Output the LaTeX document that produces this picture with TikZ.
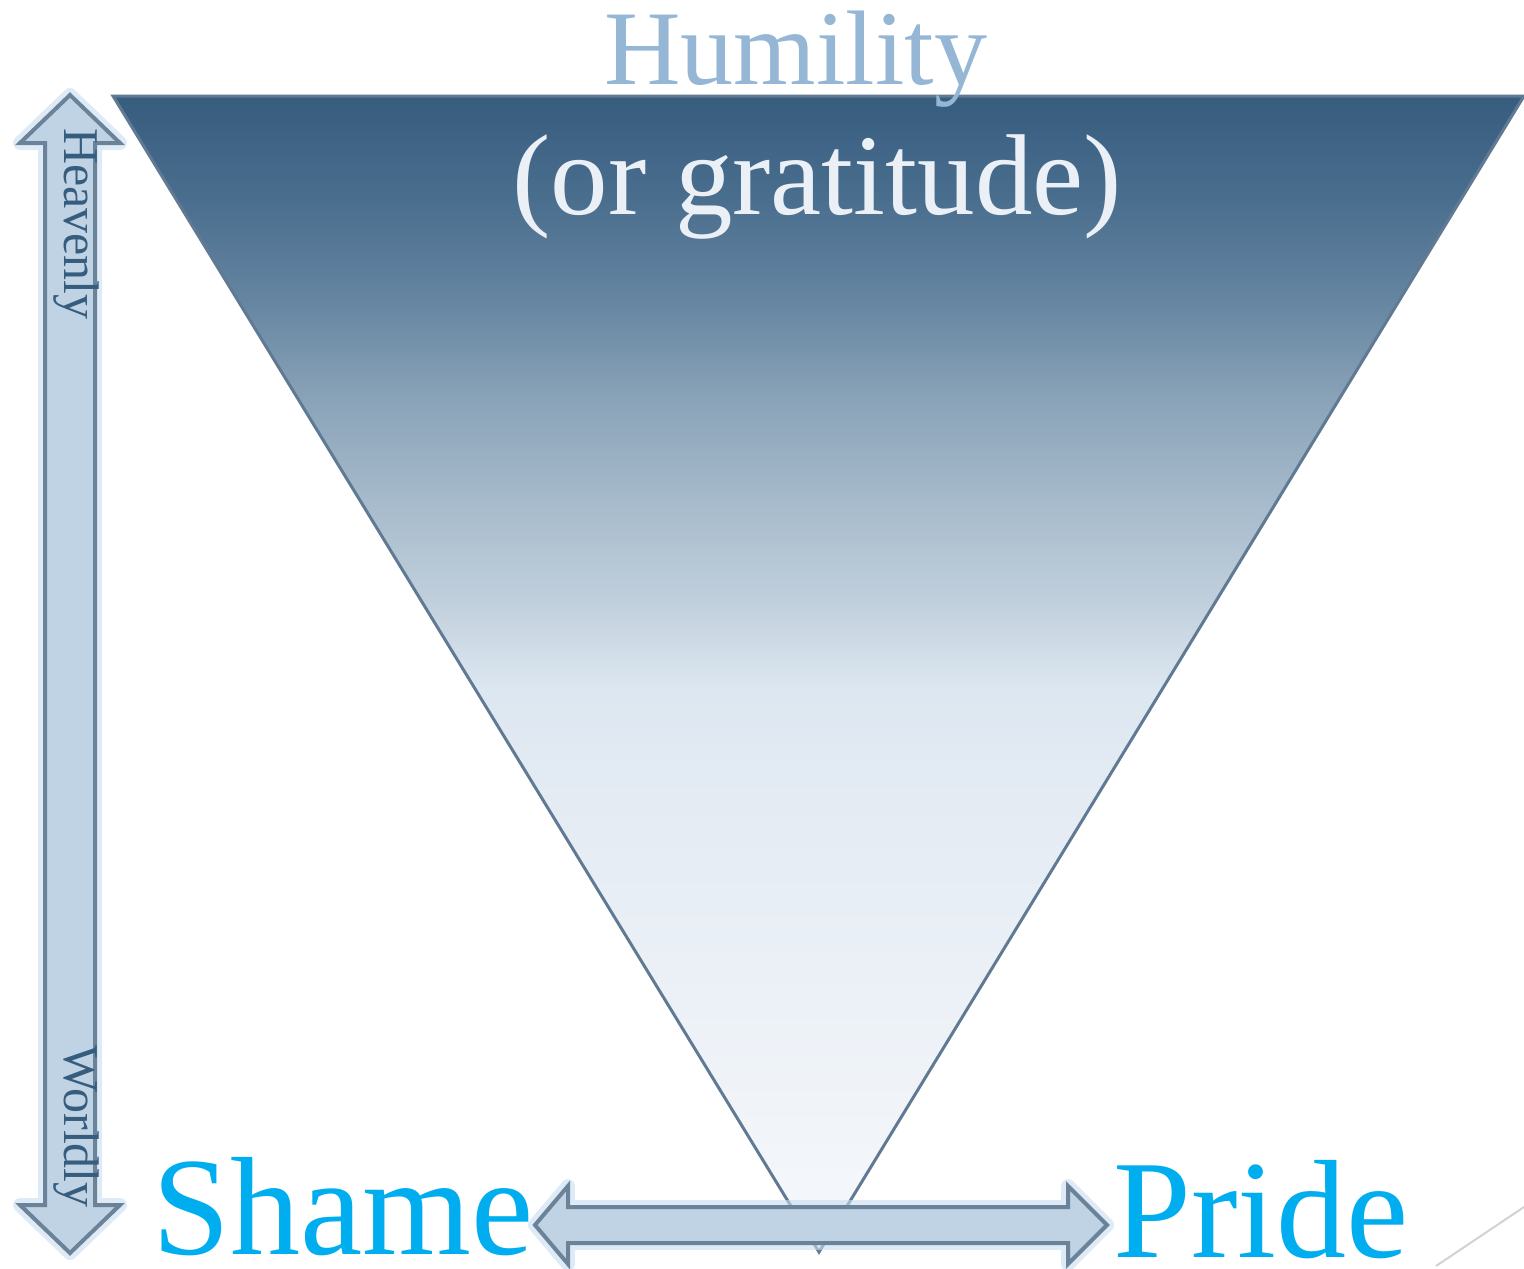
\documentclass[tikz,border=0pt]{standalone}
\usepackage{fontspec}
\setmainfont{Liberation Serif}
\definecolor{tridark}{RGB}{54,92,126}
\definecolor{triedge}{RGB}{96,122,148}
\definecolor{arrfill}{RGB}{192,211,228}
\definecolor{arredge}{RGB}{106,131,153}
\definecolor{glowc}{RGB}{200,222,242}
\definecolor{humc}{RGB}{149,182,212}
\definecolor{gratc}{RGB}{235,239,246}
\definecolor{cyanc}{RGB}{0,174,239}
\definecolor{sidec}{RGB}{54,92,126}
\definecolor{c1}{RGB}{54,92,126}
\definecolor{c2}{RGB}{74,110,142}
\definecolor{c3}{RGB}{101,133,161}
\definecolor{c4}{RGB}{138,163,184}
\definecolor{c5}{RGB}{166,186,203}
\definecolor{c6}{RGB}{192,207,220}
\definecolor{c7}{RGB}{221,231,241}
\definecolor{c8}{RGB}{228,235,243}
\definecolor{c9}{RGB}{236,241,247}
\definecolor{c10}{RGB}{246,248,251}
\tikzset{
  arrowshape/.style={fill=arrfill, draw=arredge, line width=4pt, line join=miter},
  glow/.style={draw=glowc, line width=14pt, line join=round, opacity=0.6},
  sidelabel/.style={text=sidec, font=\fontsize{50}{50}\selectfont, inner sep=0pt, rotate=-90, anchor=base west},
  bigword/.style={text=cyanc, font=\fontsize{140}{140}\selectfont, inner sep=0pt, text depth=0pt, anchor=base west}
}
\begin{document}
\begin{tikzpicture}[x=1pt,y=-1pt]
\useasboundingbox (0,0) rectangle (1524,1269);
% triangle with banded gradient
\begin{scope}
\clip (113,96) -- (1524,96) -- (819,1252) -- cycle;
\shade[top color=c1,bottom color=c2] (100,95) rectangle (1530,200);
\shade[top color=c2,bottom color=c3] (100,199.5) rectangle (1530,300);
\shade[top color=c3,bottom color=c4] (100,299.5) rectangle (1530,400);
\shade[top color=c4,bottom color=c5] (100,399.5) rectangle (1530,500);
\shade[top color=c5,bottom color=c6] (100,499.5) rectangle (1530,600);
\shade[top color=c6,bottom color=c7] (100,599.5) rectangle (1530,690);
\shade[top color=c7,bottom color=c8] (100,689.5) rectangle (1530,800);
\shade[top color=c8,bottom color=c9] (100,799.5) rectangle (1530,1000);
\shade[top color=c9,bottom color=c10] (100,999.5) rectangle (1530,1260);
\end{scope}
\draw[triedge, line width=3pt, line join=miter] (113,96) -- (1524,96) -- (819,1252) -- cycle;
% vertical double arrow
\draw[glow] (70,95) -- (120,143) -- (95,143) -- (95,1205) -- (120,1205) -- (70,1253) -- (20,1205) -- (45,1205) -- (45,143) -- (20,143) -- cycle;
\draw[arrowshape] (70,95) -- (120,143) -- (95,143) -- (95,1205) -- (120,1205) -- (70,1253) -- (20,1205) -- (45,1205) -- (45,143) -- (20,143) -- cycle;
% horizontal double arrow
\draw[glow] (535,1225) -- (568,1186) -- (568,1207) -- (1068,1207) -- (1068,1186) -- (1107,1225) -- (1068,1264) -- (1068,1243) -- (568,1243) -- (568,1264) -- cycle;
\draw[arrowshape] (535,1225) -- (568,1186) -- (568,1207) -- (1068,1207) -- (1068,1186) -- (1107,1225) -- (1068,1264) -- (1068,1243) -- (568,1243) -- (568,1264) -- cycle;
% labels
\node[sidelabel] (heavenly) at (64,128) {Heavenly};
\node[sidelabel] (worldly) at (64,1045) {Worldly};
\node[text=humc, font=\fontsize{106}{106}\selectfont, inner sep=0pt, anchor=base west] (humility) at (604,84) {Humility};
\node[text=gratc, font=\fontsize{115}{115}\selectfont, inner sep=0pt, anchor=base west] (gratitude) at (512,214) {(or gratitude)};
\node[bigword] (shame) at (152,1254) {Shame};
\node[bigword] (pride) at (1113,1257) {Pride};
% small decorative line bottom right
\draw[gray!35, line width=2pt] (1436,1266) -- (1524,1207);
\end{tikzpicture}
\end{document}
